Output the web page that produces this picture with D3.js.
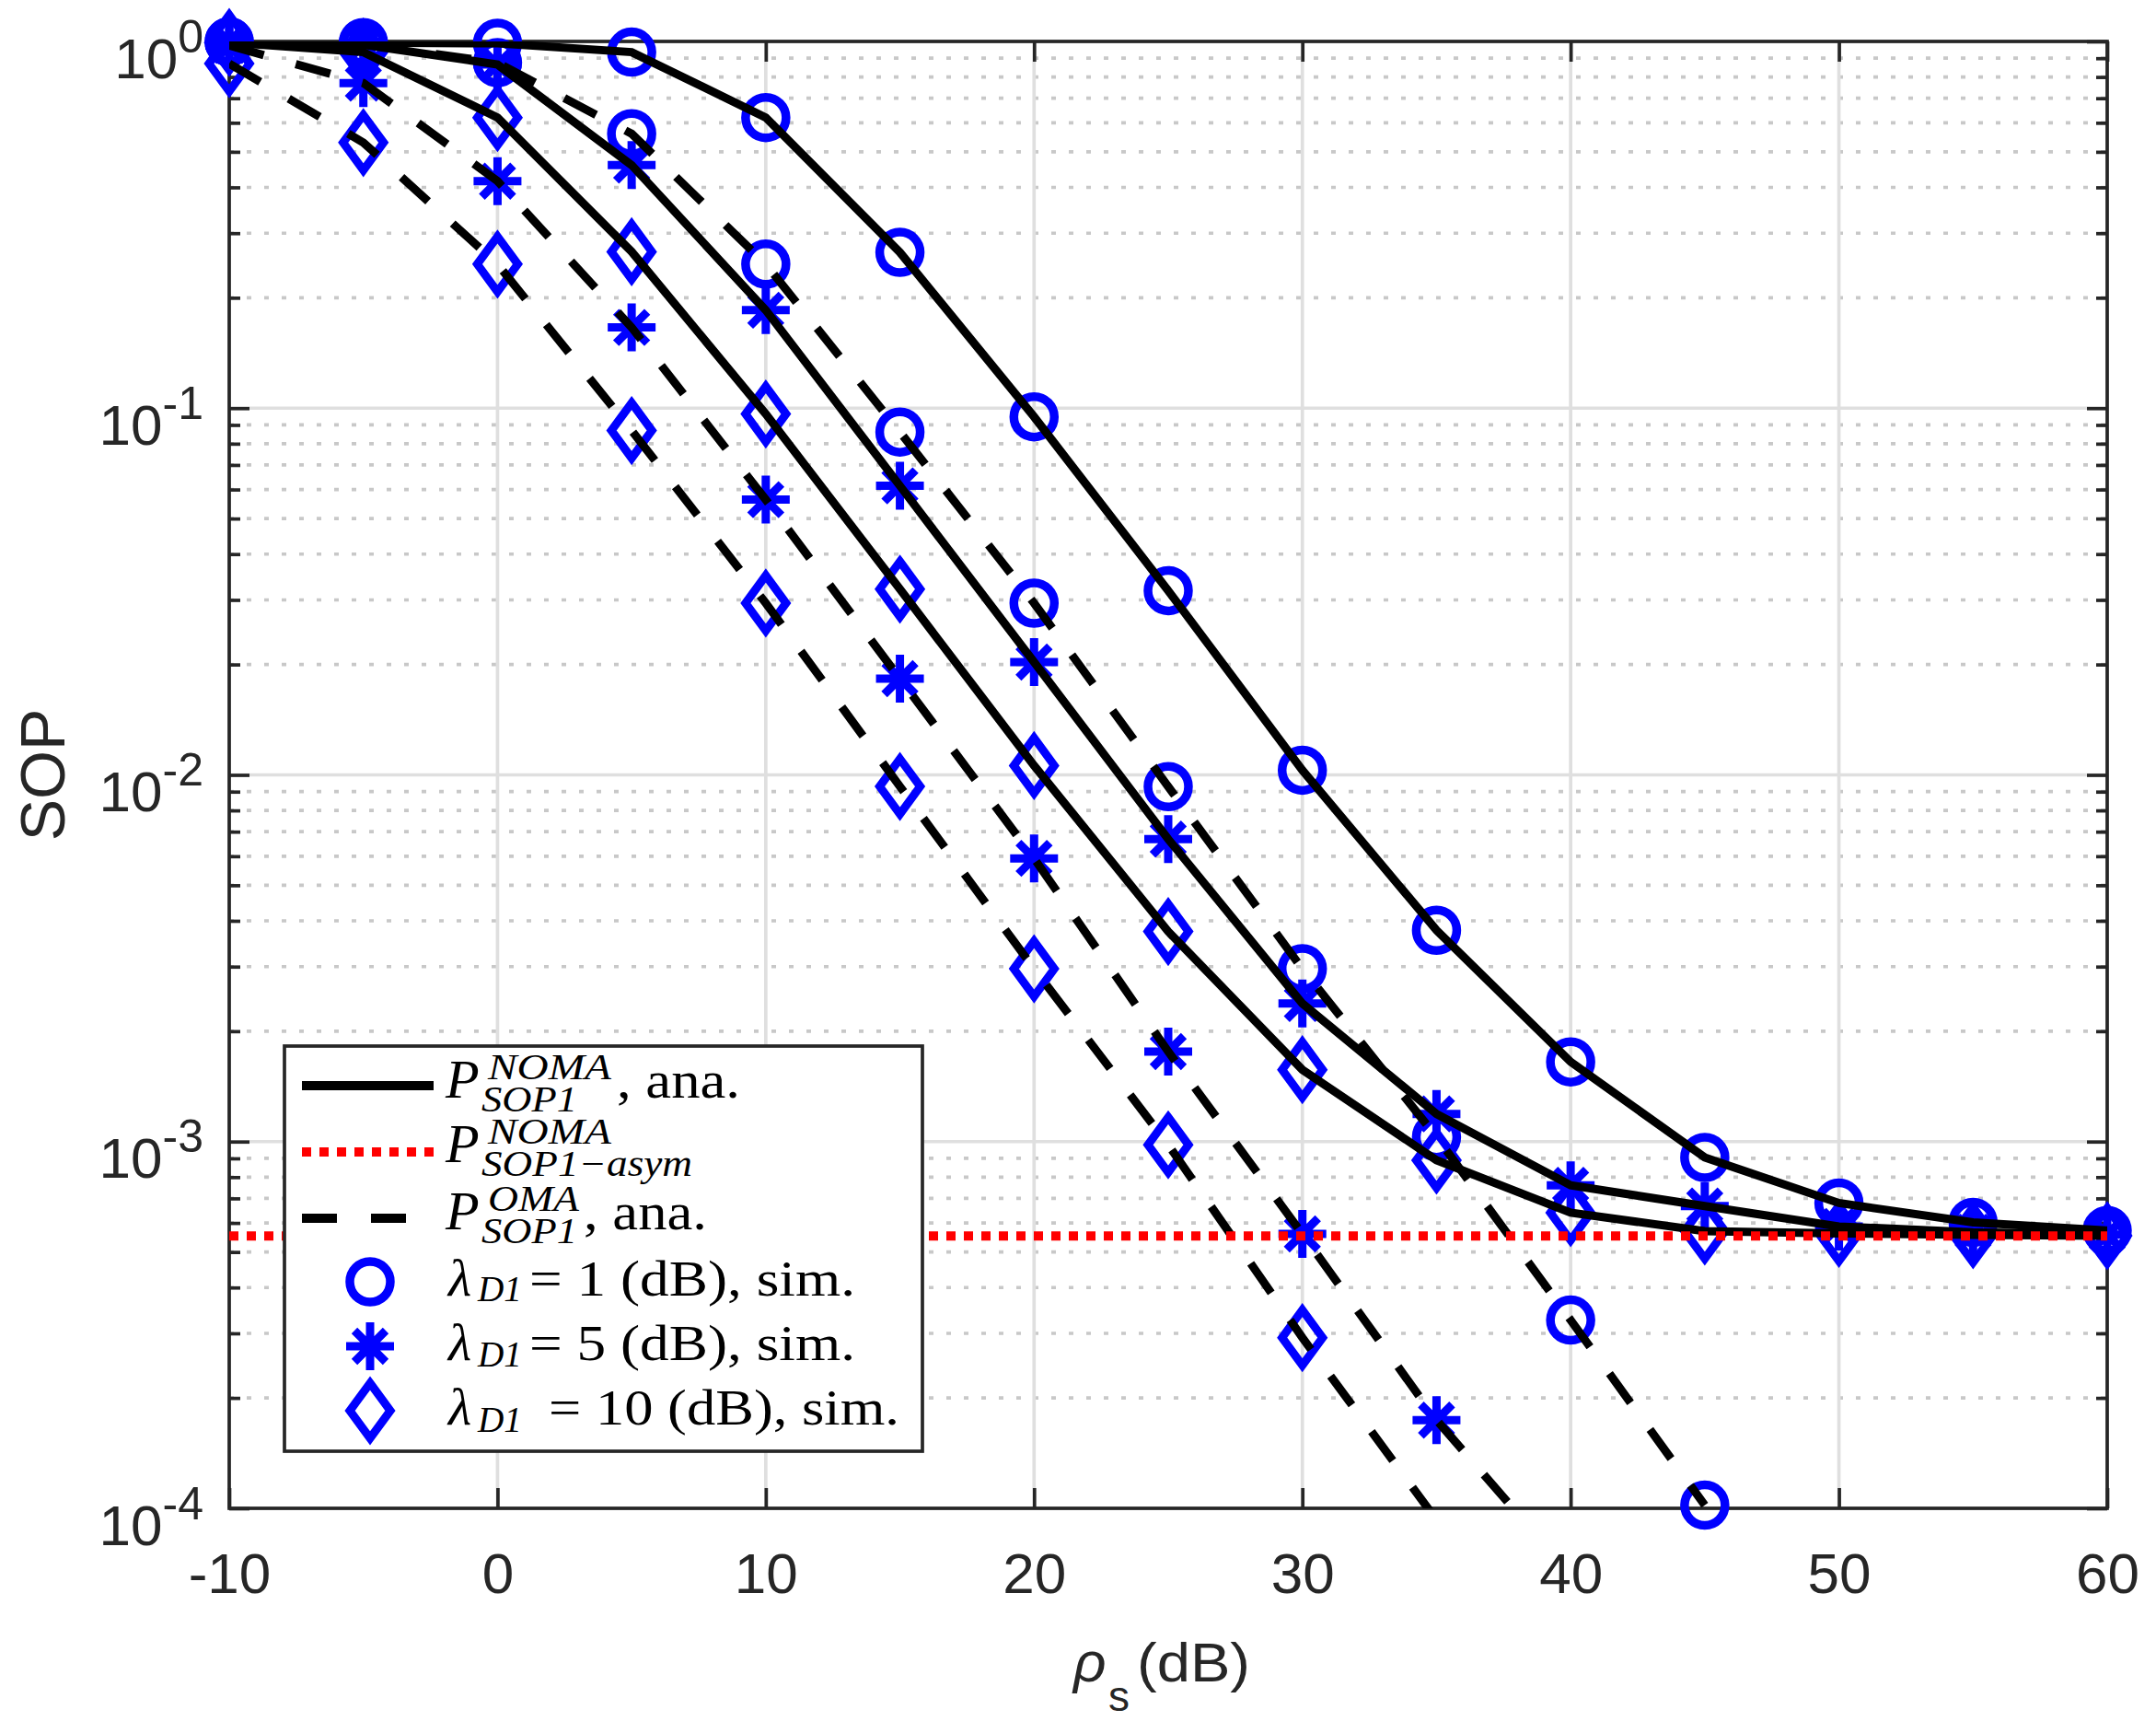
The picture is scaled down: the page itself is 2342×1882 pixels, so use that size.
<!DOCTYPE html>
<html lang="en">
<head>
<meta charset="UTF-8" />
<title>SOP versus rho_s</title>
<style>
  body { margin: 0; background: #fff; }
  .tick text { font-family: "Liberation Sans", Arial, sans-serif; fill: #262626; }
  .tick line { stroke: #262626; stroke-width: 3.7; }
  .lgd { font-family: "Liberation Serif", "Times New Roman", serif; fill: #000; }
</style>
</head>
<body>
<svg id="chart" width="2342" height="1882"></svg>
<script src="https://cdn.jsdelivr.net/npm/d3@7"></script>
<script>
// x values (dB) shared by every curve
const rhoDb = [-10, -5, 0, 5, 10, 15, 20, 25, 30, 35, 40, 45, 50, 55, 60];

// NOMA analytic curves (solid) for lambda_D1 = 1, 5, 10 dB
const nomaL1 = [0.998, 0.993, 0.988, 0.935, 0.62, 0.266, 0.0947, 0.0318, 0.0103, 0.00377, 0.00165, 0.000905, 0.00068, 0.000602, 0.000572];
const nomaL5 = [0.996, 0.98, 0.865, 0.46, 0.185, 0.0614, 0.0203, 0.00668, 0.00238, 0.00119, 0.00076, 0.000667, 0.000587, 0.000566, 0.000558];
const nomaL10 = [0.993, 0.935, 0.62, 0.267, 0.0964, 0.0321, 0.0106, 0.00374, 0.00157, 0.00089, 0.00064, 0.00057, 0.000562, 0.000557, 0.000554];

// OMA analytic curves (dashed), they leave the plot at the bottom
const omaL1 = [0.997, 0.985, 0.875, 0.56, 0.247, 0.0861, 0.0294, 0.00929, 0.00296, 0.00103, 0.000326, 0.000102];
const omaL5 = [0.975, 0.77, 0.416, 0.166, 0.0563, 0.0183, 0.00592, 0.00176, 0.00056, 0.000174, 0.000066];
const omaL10 = [0.87, 0.53, 0.247, 0.0869, 0.0294, 0.0093, 0.00296, 0.00098, 0.000292, 0.000093];

// asymptotic floor (red dotted)
const asymFloor = 5.53e-4;

const xTicks = [-10, 0, 10, 20, 30, 40, 50, 60];
const yTicks = [1e-4, 1e-3, 1e-2, 1e-1, 1];
const yExponents = ["-4", "-3", "-2", "-1", "0"];

const svg = d3.select("#chart");
svg.append("rect").attr("width", 2342).attr("height", 1882).attr("fill", "#fff");

const pLeft = 249, pRight = 2289, pTop = 45, pBottom = 1638;
const x = d3.scaleLinear().domain([-10, 60]).range([pLeft, pRight]);
const y = d3.scaleLog().domain([1e-4, 1]).range([pBottom, pTop]);

// minor decade values 2..9 x 10^e
const minorVals = [];
for (let e = -4; e < 0; e++) {
  for (let k = 2; k <= 9; k++) minorVals.push(k * Math.pow(10, e));
}

// grid
const grid = svg.append("g");
grid.selectAll(".mg").data(minorVals).enter().append("line")
  .attr("x1", pLeft).attr("x2", pRight)
  .attr("y1", d => y(d)).attr("y2", d => y(d))
  .attr("stroke", "#c8c8c8").attr("stroke-width", 3.7)
  .attr("stroke-dasharray", "5 14");
grid.selectAll(".gx").data(xTicks).enter().append("line")
  .attr("x1", d => x(d)).attr("x2", d => x(d))
  .attr("y1", pTop).attr("y2", pBottom)
  .attr("stroke", "#dfdfdf").attr("stroke-width", 3.7);
grid.selectAll(".gy").data(yTicks).enter().append("line")
  .attr("x1", pLeft).attr("x2", pRight)
  .attr("y1", d => y(d)).attr("y2", d => y(d))
  .attr("stroke", "#dfdfdf").attr("stroke-width", 3.7);

const noDomain = g => g.select(".domain").remove();

// bottom axis with labels
svg.append("g")
  .attr("transform", `translate(0,${pBottom})`)
  .call(d3.axisBottom(x).tickValues(xTicks).tickSizeInner(-22).tickSizeOuter(0)
    .tickPadding(48).tickFormat(d => String(d)))
  .call(noDomain)
  .call(g => g.selectAll("text").attr("font-size", 62));

// top axis
svg.append("g")
  .attr("transform", `translate(0,${pTop})`)
  .call(d3.axisTop(x).tickValues(xTicks).tickSizeInner(-22).tickSizeOuter(0).tickFormat(""))
  .call(noDomain);

// left axis, decade labels as 10^e
svg.append("g")
  .attr("transform", `translate(${pLeft},0)`)
  .call(d3.axisLeft(y).tickValues(yTicks).tickSizeInner(-22).tickSizeOuter(0)
    .tickPadding(28).tickFormat(() => ""))
  .call(noDomain)
  .call(g => g.selectAll("text").each(function (d, i) {
    const t = d3.select(this).attr("dy", null).attr("y", 39).attr("font-size", 62);
    t.append("tspan").text("10");
    t.append("tspan").attr("dy", -28).attr("font-size", 50).text(yExponents[i]);
  }));
svg.append("g")
  .attr("transform", `translate(${pLeft},0)`)
  .call(d3.axisLeft(y).tickValues(minorVals).tickSizeInner(-12).tickSizeOuter(0).tickFormat(""))
  .call(noDomain);

// right axis
svg.append("g")
  .attr("transform", `translate(${pRight},0)`)
  .call(d3.axisRight(y).tickValues(yTicks).tickSizeInner(-22).tickSizeOuter(0).tickFormat(""))
  .call(noDomain);
svg.append("g")
  .attr("transform", `translate(${pRight},0)`)
  .call(d3.axisRight(y).tickValues(minorVals).tickSizeInner(-12).tickSizeOuter(0).tickFormat(""))
  .call(noDomain);

// box
svg.append("rect")
  .attr("x", pLeft).attr("y", pTop)
  .attr("width", pRight - pLeft).attr("height", pBottom - pTop)
  .attr("fill", "none").attr("stroke", "#262626").attr("stroke-width", 3.7);

// axis titles
svg.append("text")
  .attr("transform", `translate(70,${(pTop + pBottom) / 2}) rotate(-90)`)
  .attr("text-anchor", "middle")
  .attr("font-family", "Liberation Sans, Arial, sans-serif")
  .attr("font-size", 68).attr("fill", "#262626")
  .text("SOP");

const xl = svg.append("text").attr("fill", "#262626")
  .attr("font-family", "Liberation Sans, Arial, sans-serif");
xl.append("tspan").attr("x", 1166).attr("y", 1826).attr("font-size", 62)
  .attr("font-style", "italic").text("ρ");
xl.append("tspan").attr("x", 1204).attr("y", 1858).attr("font-size", 46).text("s");
xl.append("tspan").attr("x", 1235).attr("y", 1826).attr("font-size", 60)
  .attr("textLength", 123).attr("lengthAdjust", "spacingAndGlyphs").text("(dB)");

// marker symbols
const symCircle = "circle";
const symStar = "M-26,0H26M0,-26V26M-17,-17L17,17M-17,17L17,-17";
const symDiamond = "M0,-30L22,0L0,30L-22,0Z";

function drawMarker(g, shape, cx, cy) {
  if (shape === symCircle) {
    g.append("circle").attr("cx", cx).attr("cy", cy).attr("r", 22)
      .attr("fill", "none").attr("stroke", "#0000ff").attr("stroke-width", 9.5);
  } else {
    g.append("path").attr("d", shape)
      .attr("transform", `translate(${cx},${cy})`)
      .attr("fill", "none").attr("stroke", "#0000ff").attr("stroke-width", 9)
      .attr("stroke-linejoin", "miter").attr("stroke-miterlimit", 10);
  }
}

const series = [
  { vals: nomaL1, dash: null, shape: symCircle },
  { vals: nomaL5, dash: null, shape: symStar },
  { vals: nomaL10, dash: null, shape: symDiamond },
  { vals: omaL1, dash: "39 36", shape: symCircle },
  { vals: omaL5, dash: "39 36", shape: symStar },
  { vals: omaL10, dash: "39 36", shape: symDiamond }
];

// simulation markers first (lines are drawn over them)
const markers = svg.append("g");
series.forEach(s => {
  s.vals.forEach((v, i) => {
    if (v >= 0.99e-4) drawMarker(markers, s.shape, x(rhoDb[i]), y(v));
  });
});

svg.append("clipPath").attr("id", "plotClip")
  .append("rect").attr("x", pLeft).attr("y", pTop)
  .attr("width", pRight - pLeft).attr("height", pBottom - pTop);

const line = d3.line().x(d => x(d[0])).y(d => y(d[1]));
const lines = svg.append("g").attr("clip-path", "url(#plotClip)");
series.forEach(s => {
  lines.append("path")
    .attr("d", line(s.vals.map((v, i) => [rhoDb[i], v])))
    .attr("fill", "none").attr("stroke", "#000").attr("stroke-width", 9)
    .attr("stroke-dasharray", s.dash);
});
lines.append("path")
  .attr("d", line([[-10, asymFloor], [60, asymFloor]]))
  .attr("fill", "none").attr("stroke", "#ff0000").attr("stroke-width", 10)
  .attr("stroke-dasharray", "10 9");

// legend
const lg = svg.append("g");
lg.append("rect").attr("x", 309).attr("y", 1136).attr("width", 693).attr("height", 440)
  .attr("fill", "#fff").attr("stroke", "#262626").attr("stroke-width", 3.7);
lg.append("line").attr("x1", 328).attr("x2", 471).attr("y1", 1179).attr("y2", 1179)
  .attr("stroke", "#000").attr("stroke-width", 10);
lg.append("line").attr("x1", 328).attr("x2", 471).attr("y1", 1251).attr("y2", 1251)
  .attr("stroke", "#ff0000").attr("stroke-width", 10).attr("stroke-dasharray", "10 9");
lg.append("line").attr("x1", 328).attr("x2", 471).attr("y1", 1323).attr("y2", 1323)
  .attr("stroke", "#000").attr("stroke-width", 10).attr("stroke-dasharray", "38 37");
drawMarker(lg, symCircle, 402, 1392);
drawMarker(lg, symStar, 402, 1462);
drawMarker(lg, symDiamond, 402, 1532);

// one text element per legend row, pieces placed as tspans
function lgRow(pieces) {
  const t = lg.append("text").attr("class", "lgd");
  pieces.forEach(p => {
    const s = t.append("tspan").attr("x", p[1]).attr("y", p[2])
      .attr("font-size", p[3]).attr("font-style", p[4] ? "italic" : "normal").text(p[0]);
    if (p[5]) s.attr("textLength", p[5]).attr("lengthAdjust", "spacingAndGlyphs");
  });
}

lgRow([["P", 484, 1192, 60, true], ["NOMA", 530, 1172, 40, true, 134],
  ["SOP1", 523, 1207, 40, true, 104], [", ana.", 670, 1192, 56, false, 134]]);
lgRow([["P", 484, 1262, 60, true], ["NOMA", 530, 1242, 40, true, 134],
  ["SOP1−asym", 523, 1277, 40, true, 229]]);
lgRow([["P", 484, 1335, 60, true], ["OMA", 530, 1315, 40, true, 99],
  ["SOP1", 523, 1350, 40, true, 104], [", ana.", 634, 1335, 56, false, 134]]);

const lamRows = [
  { base: 1407, sub: 1413, eqX: 575, text: "= 1 (dB), sim.", len: 354 },
  { base: 1477, sub: 1484, eqX: 575, text: "= 5 (dB), sim.", len: 354 },
  { base: 1547, sub: 1555, eqX: 596, text: "= 10 (dB), sim.", len: 381 }
];
lamRows.forEach(r => {
  lgRow([["λ", 487, r.base, 58, true], ["D1", 519, r.sub, 40, true, 48],
    [r.text, r.eqX, r.base, 54, false, r.len]]);
});
</script>
</body>
</html>
